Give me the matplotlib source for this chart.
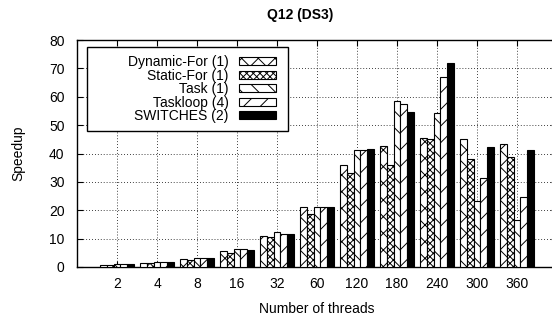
import numpy as np
import matplotlib.pyplot as plt
from matplotlib.patches import Rectangle

plt.rcParams['font.family'] = ['Liberation Sans', 'DejaVu Sans']
plt.rcParams['hatch.linewidth'] = 0.7

threads = ['2', '4', '8', '16', '32', '60', '120', '180', '240', '300', '360']
series = ['Dynamic-For (1)', 'Static-For (1)', 'Task (1)', 'Taskloop (4)', 'SWITCHES (2)']
dynamic_for = [0.6, 1.3, 2.7, 5.5, 11.1, 21.3, 35.8, 42.5, 45.3, 45.1, 43.5]
static_for = [0.7, 1.3, 2.5, 5.1, 10.4, 18.8, 33.3, 36.1, 45.1, 37.9, 38.7]
task = [1.0, 1.7, 3.3, 6.2, 12.2, 21.3, 41.1, 58.5, 54.1, 23.1, 16.7]
taskloop = [1.0, 1.7, 3.2, 6.2, 11.8, 21.0, 41.1, 57.3, 66.8, 31.3, 24.7]
switches = [1.0, 1.6, 3.0, 6.0, 11.5, 21.0, 41.5, 54.7, 72.0, 42.4, 41.4]

values = [dynamic_for, static_for, task, taskloop, switches]
hatches = ['xx', 'xxxxx', '\\\\', '//', None]
fills = ['white', 'white', 'white', 'white', 'black']

W, H = 552, 325
fig = plt.figure(figsize=(W / 100, H / 100), dpi=100)
ax = fig.add_axes([77 / W, 1 - 267 / H, 480 / W, 227 / H])

x = np.arange(len(threads))
w = 1 / 6
for i, (vals, label) in enumerate(zip(values, series)):
    ax.bar(x + (i - 2) * w, vals, width=w, color=fills[i], edgecolor='black',
           hatch=hatches[i], linewidth=0.8, label=label, zorder=3)

ax.set_xlim(-1, 11)
ax.set_ylim(0, 80)
ax.set_xticks(x)
ax.set_xticklabels(threads)
ax.set_yticks(np.arange(0, 81, 10))
ax.tick_params(direction='in', length=4, width=0.8, top=True, right=True,
               labelsize=10)
ax.tick_params(axis='x', pad=7)
ax.tick_params(axis='y', pad=9)
ax.grid(True, color='black', linestyle=(0, (1, 2.5)), linewidth=0.6, zorder=0)
for s in ax.spines.values():
    s.set_linewidth(1.0)

ax.set_xlabel('Number of threads', fontsize=10, labelpad=8)
ax.set_ylabel('Speedup', fontsize=10, labelpad=17)
fig.text(300 / W, 1 - 15 / H, 'Q12 (DS3)', ha='center', va='center',
         fontsize=10, fontweight='bold')

# legend box like gnuplot's key
ax.add_patch(Rectangle((87 / W, 1 - 131 / H), 201 / W, 84 / H,
                       transform=fig.transFigure, facecolor='white',
                       edgecolor='black', linewidth=1.0, zorder=4,
                       clip_on=False))
leg = ax.legend(loc='upper right', bbox_to_anchor=(276 / W, 1 - 55 / H),
                bbox_transform=fig.transFigure, borderaxespad=0, borderpad=0,
                markerfirst=False, frameon=False, fontsize=10,
                handlelength=2.7, handleheight=0.5, labelspacing=-0.03,
                handletextpad=0.7)
leg.set_zorder(5)

fig.savefig('out.png', dpi=100)
